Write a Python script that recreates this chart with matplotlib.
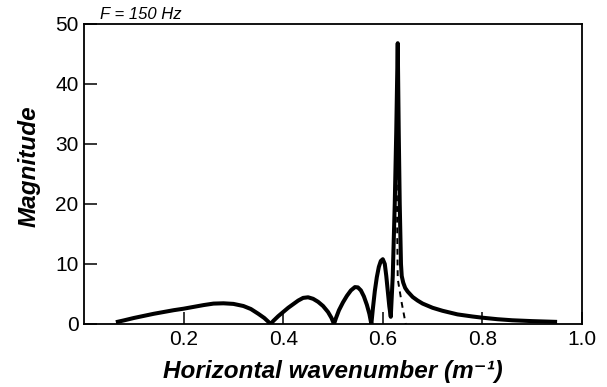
import matplotlib
matplotlib.use("Agg")
import matplotlib.pyplot as plt

plt.rcParams["font.family"] = ["Liberation Sans", "DejaVu Sans"]

# wavenumber spectrum at 150 Hz, one list pair per lobe
k_lobe1 = [0.064, 0.08, 0.10, 0.12, 0.14, 0.16, 0.18, 0.20, 0.22, 0.24,
           0.26, 0.28, 0.30, 0.32, 0.335, 0.35, 0.362, 0.375]
m_lobe1 = [0.3, 0.6, 1.0, 1.35, 1.7, 2.0, 2.3, 2.55, 2.85, 3.15,
           3.4, 3.45, 3.35, 3.0, 2.5, 1.7, 1.0, 0.0]
k_lobe2 = [0.38, 0.39, 0.40, 0.41, 0.42, 0.43, 0.44, 0.45, 0.46, 0.47,
           0.48, 0.49, 0.497, 0.502]
m_lobe2 = [0.5, 1.3, 2.0, 2.7, 3.3, 3.9, 4.35, 4.45, 4.2, 3.7,
           3.0, 2.0, 1.0, 0.0]
k_lobe3 = [0.506, 0.512, 0.52, 0.528, 0.536, 0.544, 0.55, 0.556, 0.562,
           0.568, 0.573, 0.577]
m_lobe3 = [1.0, 2.3, 3.6, 4.7, 5.6, 6.15, 6.1, 5.6, 4.6, 3.2, 1.7, 0.0]
k_lobe4 = [0.580, 0.584, 0.588, 0.592, 0.596, 0.600, 0.604, 0.607, 0.610,
           0.613, 0.616]
m_lobe4 = [2.5, 5.5, 7.8, 9.5, 10.5, 10.8, 10.0, 8.0, 5.5, 3.0, 1.2]
k_peak = [0.620, 0.624, 0.627, 0.630, 0.632, 0.634, 0.6365, 0.638]
m_peak = [8.0, 20.0, 32.0, 46.8, 32.0, 20.0, 10.0, 8.0]
k_tail = [0.641, 0.645, 0.65, 0.66, 0.67, 0.68, 0.70, 0.72, 0.75, 0.78,
          0.80, 0.83, 0.86, 0.90, 0.95]
m_tail = [6.9, 6.0, 5.4, 4.5, 3.9, 3.4, 2.7, 2.2, 1.6, 1.25,
          1.05, 0.8, 0.62, 0.48, 0.35]

# second curve dropping off below the peak
k_dash = [0.628, 0.629, 0.630, 0.638, 0.646]
m_dash = [25.0, 15.0, 7.5, 3.5, 0.0]

x_ticks = [0.2, 0.4, 0.6, 0.8, 1.0]
y_ticks = [0, 10, 20, 30, 40, 50]

k_all = k_lobe1 + k_lobe2 + k_lobe3 + k_lobe4 + k_peak + k_tail
m_all = m_lobe1 + m_lobe2 + m_lobe3 + m_lobe4 + m_peak + m_tail

fig = plt.figure(figsize=(6.07, 3.87), dpi=100)
ax = fig.add_axes([0.1384, 0.1628, 0.8204, 0.7752])

ax.plot(k_all, m_all, color="black", lw=2.9, solid_joinstyle="round",
        solid_capstyle="butt", zorder=3)
ax.plot(k_dash, m_dash, color="black", lw=1.4, ls=(0, (3, 2.5)), zorder=2)

ax.set_xlim(0, 1.0)
ax.set_ylim(0, 50)
ax.set_xticks(x_ticks)
ax.set_xticklabels([f"{t:.1f}" for t in x_ticks])
ax.set_yticks(y_ticks)
ax.tick_params(direction="in", length=9, width=1.1, labelsize=15,
               pad=4, colors="black")
for s in ax.spines.values():
    s.set_linewidth(1.3)

ax.set_xlabel("Horizontal wavenumber (m\u207b\u00b9)", fontsize=17.5,
              fontweight="bold", fontstyle="italic")
ax.xaxis.set_label_coords(0.5, -0.12)
ax.set_ylabel("Magnitude", fontsize=17.5, fontweight="bold",
              fontstyle="italic")
ax.yaxis.set_label_coords(-0.088, 0.527)
ax.text(0.033, 1.008, "F = 150 Hz", transform=ax.transAxes, fontsize=12,
        fontstyle="italic", ha="left", va="bottom")

fig.savefig("out.png", dpi=100)
